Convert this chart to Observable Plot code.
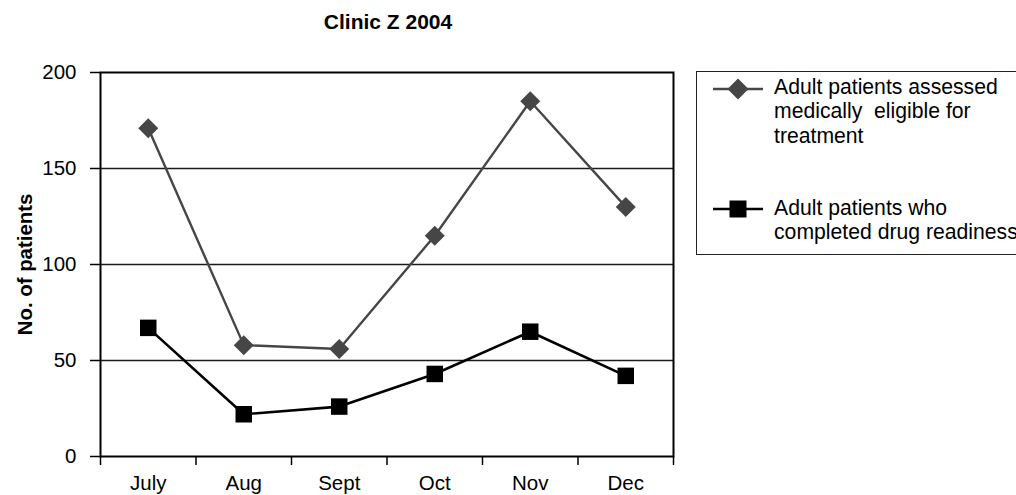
<!DOCTYPE html>
<html>
<head>
<meta charset="utf-8">
<script src="https://cdn.jsdelivr.net/npm/d3@7"></script>
<script src="https://cdn.jsdelivr.net/npm/@observablehq/plot@0.6"></script>
<style>
  html, body { margin: 0; padding: 0; background: #fff; overflow: hidden; width: 1016px; height: 495px; }
  #wrap { position: relative; width: 1016px; height: 495px; overflow: hidden; font-family: "Liberation Sans", Arial, sans-serif; }
  #chart { position: absolute; left: 0; top: 0; }
  #title { position: absolute; left: 0; top: 11px; width: 776px; text-align: center; font-weight: bold; font-size: 21px; line-height: 1; color: #000; }
  #legend { position: absolute; left: 696px; top: 71px; width: 420px; height: 184px; border: 1.2px solid #222; box-sizing: border-box; }
  .entry { position: absolute; left: 77px; font-size: 21.2px; line-height: 24.5px; white-space: pre; color: #000; }
  .sym { position: absolute; left: 16px; }
</style>
</head>
<body>
<div id="wrap">
  <div id="chart"></div>
  <div id="title">Clinic Z 2004</div>
  <div id="legend"></div>
</div>
<script>
// ---- data ----
const months = ["July", "Aug", "Sept", "Oct", "Nov", "Dec"];
const eligible = [171, 58, 56, 115, 185, 130];
const completed = [67, 22, 26, 43, 65, 42];
const seriesNames = [
  "Adult patients assessed\nmedically  eligible for\ntreatment",
  "Adult patients who\ncompleted drug readiness"
];
const yTicks = [0, 50, 100, 150, 200];
const gridValues = [50, 100, 150];

// ---- build table ----
const rowsE = months.map((m, i) => ({ pos: i + 0.5, month: m, value: eligible[i] }));
const rowsC = months.map((m, i) => ({ pos: i + 0.5, month: m, value: completed[i] }));
const boundaries = d3.range(months.length + 1);
const centers = months.map((m, i) => i + 0.5);

const grayCol = "#464646";
const font = "'Liberation Sans', Arial, sans-serif";

const chart = Plot.plot({
  width: 1016,
  height: 495,
  marginLeft: 100,
  marginRight: 343,
  marginTop: 72,
  marginBottom: 39,
  style: { fontFamily: font, background: "white", color: "black" },
  x: { type: "linear", domain: [0, months.length] },
  y: { domain: [0, 200] },
  marks: [
    Plot.ruleY(gridValues, { stroke: "#1a1a1a", strokeWidth: 1.3 }),
    Plot.axisY({ ticks: yTicks, tickSize: 10, tickPadding: 14, fontSize: 20.5, label: null, stroke: "black", strokeWidth: 1.5, tickFormat: d3.format("d") }),
    Plot.axisX({ ticks: boundaries, tickSize: 9, tickFormat: () => "", label: null, stroke: "black", strokeWidth: 1.5 }),
    Plot.axisX({ ticks: centers, tickSize: 0, tickPadding: 19, fontSize: 20.5, label: null, tickFormat: (d) => months[Math.floor(d)] }),
    Plot.frame({ stroke: "black", strokeWidth: 2 }),
    Plot.text(["No. of patients"], { frameAnchor: "left", dx: -69, rotate: -90, lineAnchor: "bottom", textAnchor: "middle", fontWeight: "bold", fontSize: 20.4, fill: "black" }),
    Plot.line(rowsE, { x: "pos", y: "value", stroke: grayCol, strokeWidth: 2.4 }),
    Plot.dot(rowsE, { x: "pos", y: "value", symbol: "diamond2", r: 9, fill: grayCol }),
    Plot.line(rowsC, { x: "pos", y: "value", stroke: "black", strokeWidth: 2.6 }),
    Plot.dot(rowsC, { x: "pos", y: "value", symbol: "square", r: 9.3, fill: "black" })
  ]
});
document.getElementById("chart").appendChild(chart);

// ---- legend ----
const legend = document.getElementById("legend");
const entries = [
  { name: seriesNames[0], top: 2.5, symTop: 17, color: grayCol, shape: "diamond" },
  { name: seriesNames[1], top: 123.5, symTop: 137, color: "black", shape: "square" }
];
entries.forEach(e => {
  const svgNS = "http://www.w3.org/2000/svg";
  const s = document.createElementNS(svgNS, "svg");
  s.setAttribute("width", 52); s.setAttribute("height", 24);
  s.setAttribute("class", "sym");
  s.style.top = (e.symTop - 12) + "px";
  const l = document.createElementNS(svgNS, "line");
  l.setAttribute("x1", 0); l.setAttribute("x2", 50); l.setAttribute("y1", 12); l.setAttribute("y2", 12);
  l.setAttribute("stroke", e.color); l.setAttribute("stroke-width", 2.5);
  s.appendChild(l);
  const p = document.createElementNS(svgNS, "path");
  if (e.shape === "diamond") p.setAttribute("d", "M25,1.5L35.5,12L25,22.5L14.5,12Z");
  else p.setAttribute("d", "M16.5,3.5H33.5V20.5H16.5Z");
  p.setAttribute("fill", e.color);
  s.appendChild(p);
  legend.appendChild(s);
  const t = document.createElement("div");
  t.className = "entry";
  t.style.top = e.top + "px";
  t.textContent = e.name;
  legend.appendChild(t);
});
</script>
</body>
</html>
